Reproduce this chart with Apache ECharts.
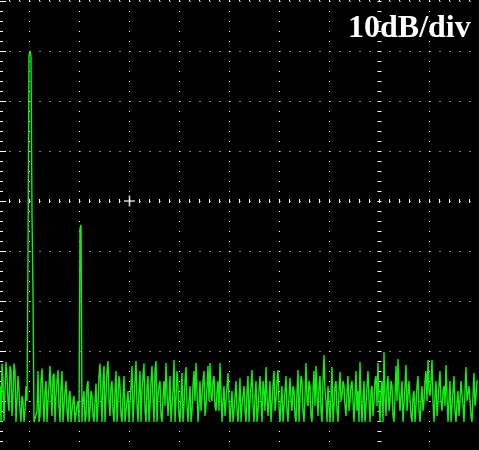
<!DOCTYPE html>
<html>
<head>
<meta charset="utf-8">
<script src="https://cdn.jsdelivr.net/npm/echarts@6/dist/echarts.min.js"></script>
<style>
html,body{margin:0;padding:0;background:#000;}
#chart{width:479px;height:450px;}
</style>
</head>
<body>
<div id="chart"></div>
<script>
// Spectrum trace: level in dB (reference level 0 dB at top, 10 dB/div)
const traceStartDiv = 0.41;   // first sample, in horizontal divisions
const traceStepDiv = 0.02;    // sample spacing, in divisions
const levels = [
  -77, -84.2, -72.5, -76, -84, -78, -72.2, -75, -80, -82,
  -73, -74, -83, -79, -72.5, -74, -84.2, -80, -75, -78,
  -82, -84.2, -79, -80, -84.2, -82, -77, -80, -51, -11,
  -10, -11.2, -42.8, -58.8, -84.2, -84.2, -84.2, -82, -74, -84.2,
  -83, -76, -73.5, -80, -84.2, -78, -76, -84.2, -80, -77,
  -73, -79, -83, -75, -74.5, -84.2, -79, -76, -73.8, -81,
  -84.2, -77, -74, -84.2, -81, -78, -76, -82, -84.2, -79,
  -78, -84.2, -82, -80, -79, -84.2, -84.2, -81, -80, -84.2,
  -45.5, -44.8, -84.2, -80, -78, -84.2, -83, -77, -76, -84.2,
  -82, -78, -79, -83, -84.2, -80, -76.5, -84.2, -81, -75,
  -72.5, -79, -84.2, -76, -73, -84.2, -79, -74, -72, -80,
  -83, -77, -76, -82, -84.2, -78, -74, -84.2, -80, -75,
  -77, -83, -84.2, -79, -75, -84.2, -82, -80, -78, -84.2,
  -84.2, -77, -73, -84.2, -80, -76, -72, -81, -84.2, -78,
  -74, -84.2, -78, -75, -72.5, -82, -84.2, -77, -75, -84.2,
  -81, -76, -73, -80, -84.2, -74, -72, -84.2, -79, -77,
  -76, -83, -84.2, -79, -76, -81, -72.4, -78, -83, -80,
  -75, -84.2, -84.2, -78, -71.8, -84.2, -80, -74, -77, -83,
  -84.2, -79, -74.4, -84.2, -81, -76, -73.2, -81, -84.2, -80,
  -77, -84.2, -82, -77, -74, -80, -72.4, -78, -84.2, -81,
  -76, -82, -79, -76, -74, -83, -81, -77, -73, -80,
  -72.4, -79, -80, -76, -75, -81, -82, -78, -76, -82,
  -72.4, -78, -84.2, -80, -77, -83, -80, -77, -74.4, -80,
  -84.2, -81, -78, -84.2, -82, -79, -76, -82, -84.2, -80,
  -75.4, -84.2, -81, -79, -77, -82, -84.2, -78, -75, -84.2,
  -80, -77, -73.8, -81, -84.2, -79, -76, -84.2, -82, -78,
  -75, -80, -84.2, -76, -78, -82, -73.2, -79, -83, -80,
  -76, -84.2, -84.2, -77, -74, -82, -80, -76, -73.8, -81,
  -84.2, -80, -77, -84.2, -81, -78, -75, -82, -84.2, -79,
  -75.4, -80, -82, -77, -78, -83, -84.2, -78, -73.8, -84.2,
  -79, -75, -76, -82, -84.2, -79, -72.4, -80, -81, -76,
  -77, -83, -84.2, -78, -74, -81, -73, -79, -83, -77,
  -75, -82, -84.2, -76, -70.8, -78, -80, -84.2, -77, -81,
  -84.2, -79, -73.2, -84.2, -81, -77, -76, -82, -84.2, -78,
  -74.2, -80, -79, -76, -77, -81, -83, -78, -75, -82,
  -80, -77, -76, -80, -84.2, -79, -74, -82, -78, -84.2,
  -72.2, -79, -84.2, -80, -76, -84.2, -81, -77, -74, -80,
  -84.2, -78, -77, -83, -80, -76, -75, -81, -72.4, -80,
  -84.2, -78, -76, -84.2, -70.2, -79, -83, -77, -75, -82,
  -80, -76, -77, -83, -84.2, -79, -73, -80, -71.6, -78,
  -82, -79, -76, -84.2, -84.2, -77, -72.8, -82, -79, -76,
  -76, -83, -84.2, -79, -78, -84.2, -81, -77, -75, -82,
  -84.2, -80, -77, -82, -80, -76, -74, -80, -71.8, -78,
  -79, -76, -71.8, -80, -84.2, -79, -76, -83, -80, -77,
  -74, -80, -82, -78, -77, -81, -72.8, -79, -84.2, -80,
  -76, -84.2, -81, -78, -75, -82, -84.2, -80, -78, -83,
  -80, -76, -76, -81, -84.2, -78, -73.2, -80, -80, -77,
  -77, -83, -84.2, -79, -74.4, -81, -79, -76, -76
];
const scaleLabel = '10dB/div';
const markerPos = [3, -40];  // cursor "+" in (div, dB)

const xMin = 0, xMax = 10, xInterval = 1;
const yMin = -90, yMax = 0, yInterval = 10;

const traceData = levels.map((v, i) => [traceStartDiv + i * traceStepDiv, v]);

const white = '#ffffff';
const dotted = { color: white, width: 1, type: [1, 9] };

function hiddenLabel() { return { show: false }; }

const chart = echarts.init(document.getElementById('chart'), null, { renderer: 'canvas' });
chart.setOption({
  backgroundColor: '#000',
  animation: false,
  grid: { left: -20.5, right: -0.5, top: 1, bottom: -1, containLabel: false, outerBoundsMode: 'none' },
  xAxis: [
    { // graticule + bottom edge ticks
      type: 'value', min: xMin, max: xMax, interval: xInterval, position: 'bottom',
      axisLine: { show: false },
      axisTick: { show: true, inside: true, length: 5, lineStyle: { color: white } },
      minorTick: { show: true, splitNumber: 5, length: 3, lineStyle: { color: white } },
      axisLabel: hiddenLabel(),
      splitLine: { show: true, lineStyle: dotted }
    },
    { // centre horizontal axis ticks (down)
      type: 'value', min: xMin, max: xMax, interval: xInterval, position: 'top', offset: -200,
      axisLine: { show: false },
      axisTick: { show: true, inside: true, length: 2, lineStyle: { color: white } },
      minorTick: { show: true, splitNumber: 5, length: 2, lineStyle: { color: white } },
      axisLabel: hiddenLabel(), splitLine: { show: false }
    },
    { // centre horizontal axis ticks (up)
      type: 'value', min: xMin, max: xMax, interval: xInterval, position: 'top', offset: -200,
      axisLine: { show: false },
      axisTick: { show: true, inside: false, length: 2, lineStyle: { color: white } },
      minorTick: { show: true, splitNumber: 5, length: 2, lineStyle: { color: white } },
      axisLabel: hiddenLabel(), splitLine: { show: false }
    }
  ],
  yAxis: [
    { // graticule + left edge ticks
      type: 'value', min: yMin, max: yMax, interval: yInterval, position: 'left', offset: -20.5,
      axisLine: { show: false },
      axisTick: { show: true, inside: true, length: 6, lineStyle: { color: white } },
      minorTick: { show: true, splitNumber: 5, length: 3, lineStyle: { color: white } },
      axisLabel: hiddenLabel(),
      splitLine: { show: true, lineStyle: dotted }
    },
    { // centre vertical axis ticks (right)
      type: 'value', min: yMin, max: yMax, interval: yInterval, position: 'left', offset: -400,
      axisLine: { show: false },
      axisTick: { show: true, inside: true, length: 2, lineStyle: { color: white } },
      minorTick: { show: true, splitNumber: 5, length: 2, lineStyle: { color: white } },
      axisLabel: hiddenLabel(), splitLine: { show: false }
    },
    { // centre vertical axis ticks (left)
      type: 'value', min: yMin, max: yMax, interval: yInterval, position: 'left', offset: -400,
      axisLine: { show: false },
      axisTick: { show: true, inside: false, length: 2, lineStyle: { color: white } },
      minorTick: { show: true, splitNumber: 5, length: 2, lineStyle: { color: white } },
      axisLabel: hiddenLabel(), splitLine: { show: false }
    }
  ],
  series: [
    {
      type: 'line', xAxisIndex: 0, yAxisIndex: 0,
      data: traceData, showSymbol: false, symbol: 'none',
      lineStyle: { color: '#10f010', width: 1.4 },
      z: 5, silent: true
    },
    {
      type: 'scatter', xAxisIndex: 0, yAxisIndex: 0,
      data: [markerPos],
      symbol: 'path://M4.25,0h1.5v10h-1.5zM0,4.25h10v1.5h-10z',
      symbolSize: 11, itemStyle: { color: white }, z: 6, silent: true
    }
  ],
  graphic: [
    {
      type: 'text', left: 348, top: 13, z: 10,
      style: { text: scaleLabel, fill: white, font: 'bold 32px "Liberation Serif", "Times New Roman", serif' }
    }
  ]
});
</script>
</body>
</html>
